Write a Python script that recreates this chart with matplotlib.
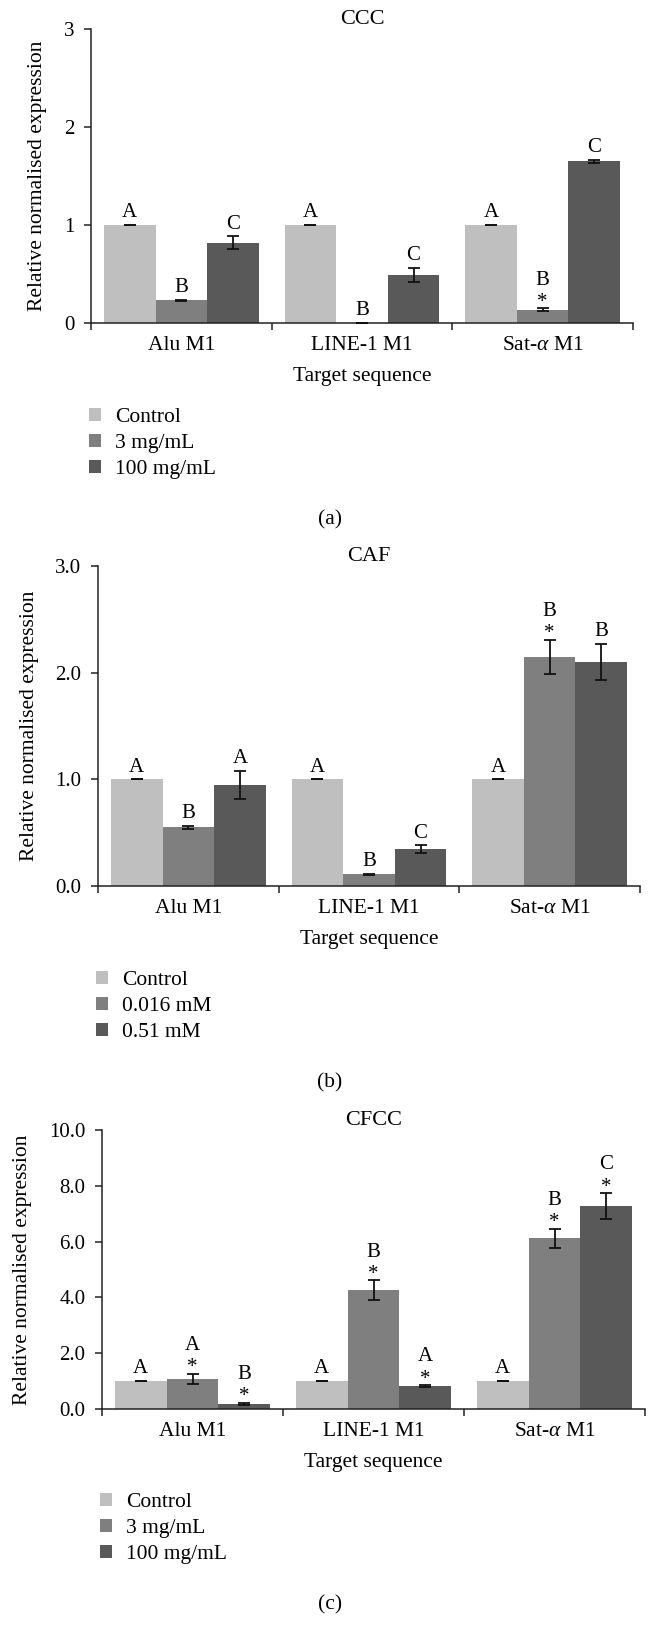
import numpy as np
import matplotlib.pyplot as plt
from matplotlib.patches import Patch

plt.rcParams['font.family'] = ['Liberation Serif', 'DejaVu Serif']
plt.rcParams['mathtext.fontset'] = 'custom'
plt.rcParams['mathtext.it'] = 'Liberation Serif:italic'
plt.rcParams['mathtext.rm'] = 'Liberation Serif'

categories = ["Alu M1", "LINE-1 M1", "Sat-$\\mathit{\\alpha}$ M1"]
colors = ["#bfbfbf", "#7f7f7f", "#595959"]

# (a) CCC
ccc_labels = ["Control", "3 mg/mL", "100 mg/mL"]
ccc_control = [1.0, 1.0, 1.0]
ccc_control_err = [0.0, 0.0, 0.0]
ccc_low = [0.23, 0.0, 0.135]
ccc_low_err = [0.008, 0.0, 0.015]
ccc_high = [0.82, 0.49, 1.65]
ccc_high_err = [0.065, 0.07, 0.017]
ccc_letters = [["A", "A", "A"], ["B", "B", "B"], ["C", "C", "C"]]
ccc_stars = [[0, 0, 0], [0, 0, 1], [0, 0, 0]]

# (b) CAF
caf_labels = ["Control", "0.016 mM", "0.51 mM"]
caf_control = [1.0, 1.0, 1.0]
caf_control_err = [0.0, 0.0, 0.0]
caf_low = [0.55, 0.11, 2.15]
caf_low_err = [0.012, 0.005, 0.16]
caf_high = [0.95, 0.345, 2.10]
caf_high_err = [0.13, 0.035, 0.17]
caf_letters = [["A", "A", "A"], ["B", "B", "B"], ["A", "C", "B"]]
caf_stars = [[0, 0, 0], [0, 0, 1], [0, 0, 0]]

# (c) CFCC
cfcc_labels = ["Control", "3 mg/mL", "100 mg/mL"]
cfcc_control = [1.0, 1.0, 1.0]
cfcc_control_err = [0.0, 0.0, 0.0]
cfcc_low = [1.08, 4.25, 6.12]
cfcc_low_err = [0.19, 0.36, 0.34]
cfcc_high = [0.18, 0.83, 7.27]
cfcc_high_err = [0.04, 0.03, 0.47]
cfcc_letters = [["A", "A", "A"], ["A", "B", "B"], ["B", "A", "C"]]
cfcc_stars = [[0, 0, 0], [1, 1, 1], [1, 1, 1]]

W, H = 660, 1648
fig = plt.figure(figsize=(W / 100, H / 100), dpi=100)
FS = 15.5      # labels, legend
FS_TICK = 15
FS_MARK = 15   # letters above bars
FS_TITLE = 16


def px_axes(left, right, top, bottom):
    return fig.add_axes([left / W, 1 - bottom / H, (right - left) / W, (bottom - top) / H])


def draw_panel(ax, title, values, errs, letters, stars, ylim, yticks, yticklabels):
    margin = 0.072
    width = (1 - 2 * margin) / 3
    groups = np.arange(len(categories))
    for j in range(3):
        x = groups + margin + width * (j + 0.5)
        ax.bar(x, values[j], width, color=colors[j], zorder=2)
        ax.errorbar(x, values[j], yerr=errs[j], fmt='none', ecolor='#111111',
                    elinewidth=1.3, capsize=4, capthick=1.3, zorder=3)
        for i in range(len(categories)):
            top = values[j][i] + errs[j][i]
            if stars[j][i]:
                ax.annotate('*', (x[i], top), xytext=(0, 1), textcoords='offset points',
                            ha='center', va='baseline', fontsize=FS_MARK)
                ax.annotate(letters[j][i], (x[i], top), xytext=(0, 17), textcoords='offset points',
                            ha='center', va='baseline', fontsize=FS_MARK)
            else:
                ax.annotate(letters[j][i], (x[i], top), xytext=(0, 5.5), textcoords='offset points',
                            ha='center', va='baseline', fontsize=FS_MARK)
    ax.set_xlim(0, 3)
    ax.set_ylim(*ylim)
    ax.set_yticks(yticks)
    ax.set_yticklabels(yticklabels, fontsize=FS_TICK)
    ax.set_xticks([0, 1, 2, 3])
    ax.set_xticklabels([])
    ax.set_xticks(groups + 0.5, minor=True)
    ax.set_xticklabels(categories, minor=True, fontsize=FS)
    ax.tick_params(axis='x', which='minor', length=0, pad=9)
    ax.tick_params(axis='both', which='major', length=5, width=1.1, color='#222222', pad=7)
    for s in ['top', 'right']:
        ax.spines[s].set_visible(False)
    for s in ['left', 'bottom']:
        ax.spines[s].set_linewidth(1.1)
        ax.spines[s].set_color('#222222')
    ax.set_title(title, fontsize=FS_TITLE, pad=1)
    ax.set_xlabel("Target sequence", fontsize=FS, labelpad=9)
    ax.set_ylabel("Relative normalised expression", fontsize=FS, labelpad=12)


def draw_legend(labels, x_px, top_px):
    handles = [Patch(facecolor=c, edgecolor='none') for c in colors]
    fig.legend(handles, labels, loc='upper left',
               bbox_to_anchor=(x_px / W, 1 - top_px / H), bbox_transform=fig.transFigure,
               frameon=False, fontsize=FS, handlelength=0.56, handleheight=0.56,
               handletextpad=0.65, labelspacing=0.32, borderpad=0, borderaxespad=0)


ax_a = px_axes(91, 633, 29, 323)
draw_panel(ax_a, "CCC", [ccc_control, ccc_low, ccc_high],
           [ccc_control_err, ccc_low_err, ccc_high_err], ccc_letters, ccc_stars,
           (0, 3), [0, 1, 2, 3], ["0", "1", "2", "3"])
draw_legend(ccc_labels, 89, 408)
fig.text(330 / W, 1 - 520 / H, "(a)", ha='center', va='center', fontsize=FS)

ax_b = px_axes(98, 640, 566, 886)
draw_panel(ax_b, "CAF", [caf_control, caf_low, caf_high],
           [caf_control_err, caf_low_err, caf_high_err], caf_letters, caf_stars,
           (0, 3), [0, 1, 2, 3], ["0.0", "1.0", "2.0", "3.0"])
draw_legend(caf_labels, 96, 971)
fig.text(330 / W, 1 - 1083 / H, "(b)", ha='center', va='center', fontsize=FS)

ax_c = px_axes(102, 645, 1130, 1409)
draw_panel(ax_c, "CFCC", [cfcc_control, cfcc_low, cfcc_high],
           [cfcc_control_err, cfcc_low_err, cfcc_high_err], cfcc_letters, cfcc_stars,
           (0, 10), [0, 2, 4, 6, 8, 10], ["0.0", "2.0", "4.0", "6.0", "8.0", "10.0"])
draw_legend(cfcc_labels, 100, 1493)
fig.text(330 / W, 1 - 1605 / H, "(c)", ha='center', va='center', fontsize=FS)

fig.savefig("out.png", dpi=100, facecolor='white')
